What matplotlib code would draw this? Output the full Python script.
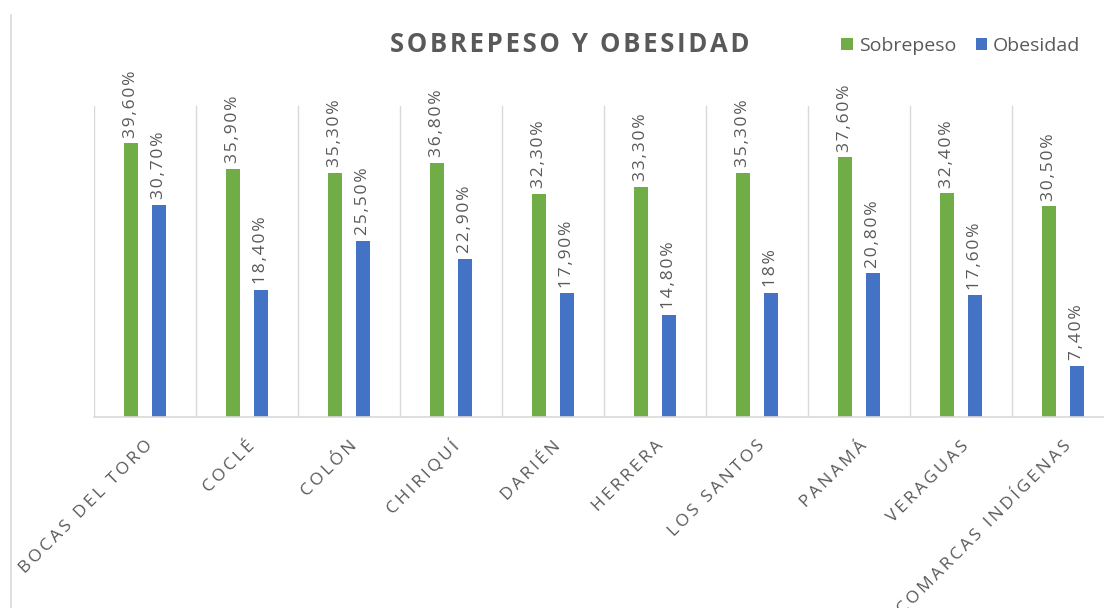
import numpy as np
import matplotlib
matplotlib.use('Agg')
import matplotlib.pyplot as plt
from matplotlib.lines import Line2D

regiones = ['BOCAS DEL TORO', 'COCLÉ', 'COLÓN', 'CHIRIQUÍ', 'DARIÉN', 'HERRERA',
            'LOS SANTOS', 'PANAMÁ', 'VERAGUAS', 'COMARCAS INDÍGENAS']
sobrepeso = [39.6, 35.9, 35.3, 36.8, 32.3, 33.3, 35.3, 37.6, 32.4, 30.5]
obesidad = [30.7, 18.4, 25.5, 22.9, 17.9, 14.8, 18.0, 20.8, 17.6, 7.4]
etiq_sobrepeso = ['39,60%', '35,90%', '35,30%', '36,80%', '32,30%', '33,30%',
                  '35,30%', '37,60%', '32,40%', '30,50%']
etiq_obesidad = ['30,70%', '18,40%', '25,50%', '22,90%', '17,90%', '14,80%',
                 '18%', '20,80%', '17,60%', '7,40%']

verde = '#70AD47'
azul = '#4472C4'
gris = '#595959'
linea = '#D9D9D9'

plt.rcParams['font.family'] = ['Open Sans', 'DejaVu Sans']


def espaciado(s, sep='\u2009'):
    # fake letter spacing with thin / hair spaces
    return sep.join(s)


W, H = 1104, 608
fig = plt.figure(figsize=(W / 100, H / 100), dpi=100)
# plot area runs a bit past the right edge, like the original screenshot
ax = fig.add_axes([94 / W, 1 - 417 / H, (1114 - 94) / W, (417 - 106) / H])

x = np.arange(len(regiones))
w = 0.137
off = 0.133
b1 = ax.bar(x - off, sobrepeso, w, color=verde, label='Sobrepeso')
b2 = ax.bar(x + off, obesidad, w, color=azul, label='Obesidad')

for barras, etiquetas in [(b1, etiq_sobrepeso), (b2, etiq_obesidad)]:
    for rect, txt in zip(barras, etiquetas):
        ax.annotate(espaciado(txt, '\u200a'),
                    (rect.get_x() + rect.get_width() / 2, rect.get_height()),
                    xytext=(0, 4), textcoords='offset points', rotation=90,
                    ha='center', va='bottom', fontsize=12.5, color=gris)

ax.set_xlim(-0.5, len(regiones) - 0.5)
ax.set_ylim(0, 45)

# separators between categories
for s in np.arange(-0.5, len(regiones), 1.0):
    ax.axvline(s, color=linea, lw=1, zorder=0)

for sp in ['top', 'right', 'left']:
    ax.spines[sp].set_visible(False)
ax.spines['bottom'].set_color(linea)
ax.spines['bottom'].set_linewidth(1.2)
ax.set_yticks([])
ax.set_xticks(x)
ax.set_xticklabels([espaciado(r) for r in regiones], rotation=45, ha='right',
                   rotation_mode='anchor', fontsize=12.5, color=gris)
ax.tick_params(axis='x', length=0, pad=15)

fig.text(570 / W, 1 - 45 / H, espaciado('SOBREPESO Y OBESIDAD', '\u200a'),
         ha='center', va='center', fontsize=18.5, fontweight='bold', color=gris)

fig.legend(handles=[b1, b2], labels=['Sobrepeso', 'Obesidad'], loc='center',
           bbox_to_anchor=(961 / W, 1 - 46 / H), ncol=2, frameon=False,
           fontsize=14, labelcolor=gris, handlelength=0.6, handleheight=0.6,
           handletextpad=0.3, columnspacing=1.0)

# left border of the chart area
fig.add_artist(Line2D([11 / W, 11 / W], [0, 1 - 15 / H], color=linea, lw=1.2,
                      transform=fig.transFigure))

fig.savefig('out.png', dpi=100)
